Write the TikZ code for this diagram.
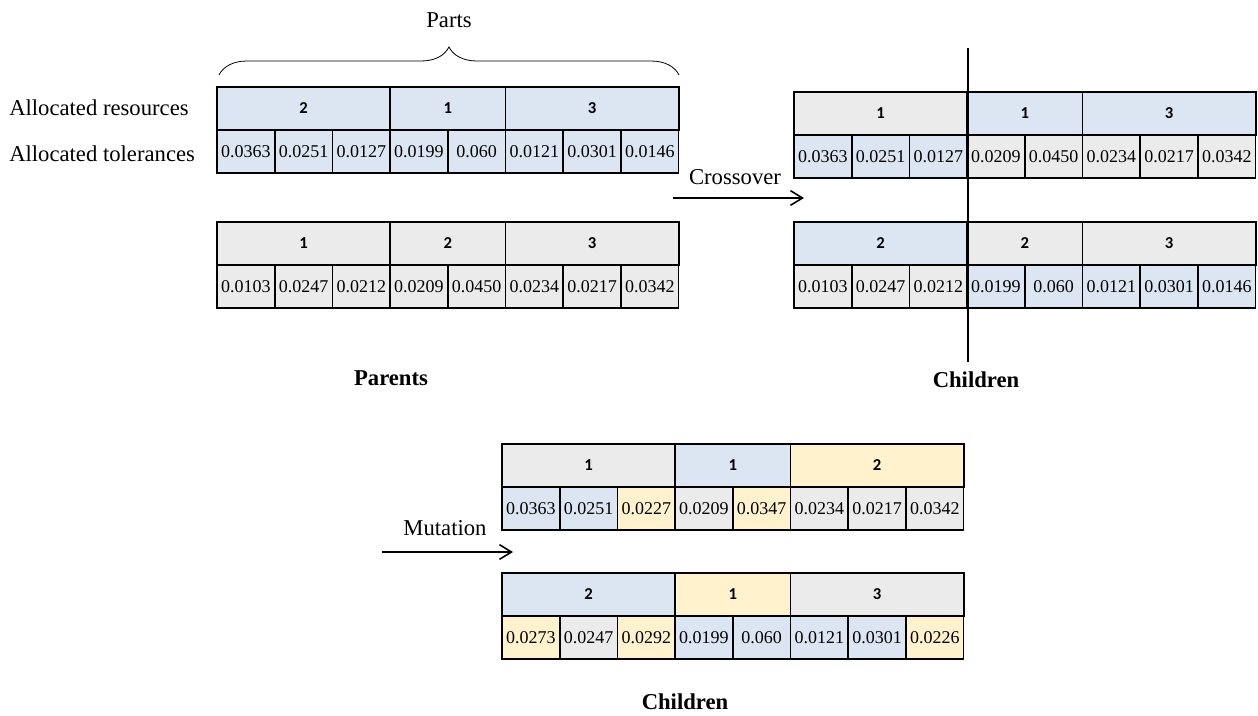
\documentclass[tikz,border=0pt]{standalone}
\usepackage{fontspec}
\setmainfont{Liberation Serif}
\newfontfamily\calibri{Carlito}
\usetikzlibrary{arrows.meta,decorations.pathreplacing}

\definecolor{geneblue}{HTML}{DCE6F2}
\definecolor{genegray}{HTML}{EBEBEB}
\definecolor{geneyellow}{HTML}{FFF2CC}

\tikzset{
  gene/.style={draw, line width=1.3pt, inner sep=0pt, minimum height=32.25pt},
  tol/.style={gene, minimum width=43.3pt, font=\fontsize{13.5}{15}\selectfont},
  res/.style={gene, font=\calibri\bfseries\fontsize{12.5}{14}\selectfont},
  blu/.style={fill=geneblue},
  gry/.style={fill=genegray},
  ylw/.style={fill=geneyellow},
  lbl/.style={font=\fontsize{17}{20}\selectfont, inner sep=0pt},
  head/.style={lbl, font=\bfseries\fontsize{17}{20}\selectfont},
  flow/.style={line width=1.6pt, -{Straight Barb[length=9pt,width=11pt,line width=1.2pt]}}
}

% one chromosome: name, left, top, resources (value/fill), tolerances (value/fill)
\newcommand{\chromosome}[5]{%
  \foreach \v/\c [count=\i] in {#4} {
    \pgfmathsetmacro{\nspan}{{3,2,3}[\i-1]}
    \pgfmathsetmacro{\xmid}{{1.5,4,6.5}[\i-1]}
    \node[res, \c, minimum width=\nspan*43.3pt] (#1r\i) at ({#2+\xmid*57.7}, {#3+21.5}) {\v};
  }
  \foreach \v/\c [count=\i] in {#5}
    \node[tol, \c] (#1t\i) at ({#2+(\i-0.5)*57.7}, {#3+64.5}) {\v};
}

\begin{document}
\begin{tikzpicture}[x=0.75pt, y=-0.75pt]
\useasboundingbox (0,0) rectangle (1258,715);

% parents
\chromosome{pa}{217}{87}{2/blu,1/blu,3/blu}
  {0.0363/blu,0.0251/blu,0.0127/blu,0.0199/blu,0.060/blu,0.0121/blu,0.0301/blu,0.0146/blu}
\chromosome{pb}{217}{222}{1/gry,2/gry,3/gry}
  {0.0103/gry,0.0247/gry,0.0212/gry,0.0209/gry,0.0450/gry,0.0234/gry,0.0217/gry,0.0342/gry}
\node[lbl, anchor=west] (res label) at (9,108) {Allocated resources};
\node[lbl, anchor=west] (tol label) at (9,154) {Allocated tolerances};
\coordinate (brace left) at (219,75);
\coordinate (brace right) at (679,75);
\draw[decorate, decoration={brace, amplitude=21pt}, line width=0.6pt] (brace left) -- (brace right);
\node[lbl] (parts) at (449,20) {Parts};
\node[head] (parents) at (391,378) {Parents};

% crossover
\coordinate (cross from) at (673,198);
\coordinate (cross to) at (804,198);
\draw[flow] (cross from) -- (cross to);
\node[lbl] (cross label) at (735,177) {Crossover};
\chromosome{ca}{794}{92}{1/gry,1/blu,3/blu}
  {0.0363/blu,0.0251/blu,0.0127/blu,0.0209/gry,0.0450/gry,0.0234/gry,0.0217/gry,0.0342/gry}
\chromosome{cb}{794}{222}{2/blu,2/gry,3/gry}
  {0.0103/gry,0.0247/gry,0.0212/gry,0.0199/blu,0.060/blu,0.0121/blu,0.0301/blu,0.0146/blu}
\coordinate (cut top) at (968,48);
\coordinate (cut bottom) at (968,362);
\draw[line width=0.9pt] (cut top) -- (cut bottom);
\node[head] (children) at (976,380) {Children};

% mutation
\coordinate (mut from) at (382,552);
\coordinate (mut to) at (513,552);
\draw[flow] (mut from) -- (mut to);
\node[lbl] (mut label) at (445,528) {Mutation};
\chromosome{ma}{502}{444}{1/gry,1/blu,2/ylw}
  {0.0363/blu,0.0251/blu,0.0227/ylw,0.0209/gry,0.0347/ylw,0.0234/gry,0.0217/gry,0.0342/gry}
\chromosome{mb}{502}{573}{2/blu,1/ylw,3/gry}
  {0.0273/ylw,0.0247/gry,0.0292/ylw,0.0199/blu,0.060/blu,0.0121/blu,0.0301/blu,0.0226/ylw}
\node[head] (mutants) at (685,702) {Children};
\end{tikzpicture}
\end{document}
